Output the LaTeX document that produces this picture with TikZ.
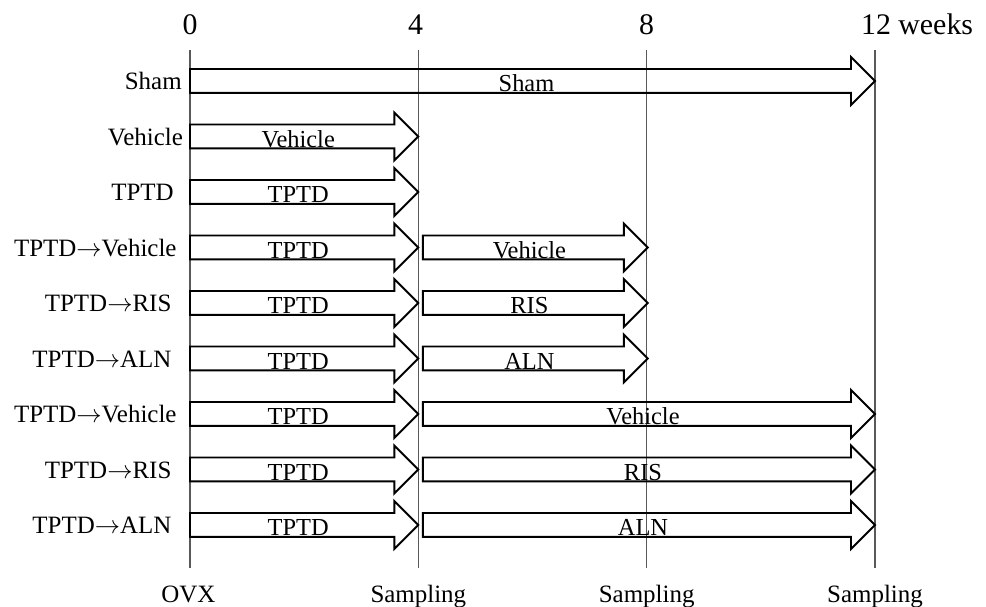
\documentclass[tikz,border=0pt]{standalone}
\usepackage{fontspec}
\setmainfont{Liberation Serif}
\usepackage{tikz}
\usetikzlibrary{shapes.arrows}

\newcommand{\wk}{1.1416cm} % one week along the time axis
\newcommand{\then}{$\rightarrow$}
\tikzset{
    period/.style={single arrow, draw, line width=1.1pt, anchor=tail, outer sep=0pt, inner sep=0pt,
        minimum width=0.94cm, single arrow head extend=0.24cm, single arrow tip angle=90,
        text height=0.44cm, text depth=0pt, font=\fontsize{13.9}{16}\selectfont},
    group/.style={anchor=base east, inner sep=0pt, font=\fontsize{14.2}{17}\selectfont},
    tick/.style={anchor=base, inner sep=0pt, font=\fontsize{17}{20}\selectfont},
    event/.style={anchor=base, inner sep=0pt, font=\fontsize{14.2}{17}\selectfont},
    weekline/.style={draw=black!65, line width=0.7pt},
}

\begin{document}
\begin{tikzpicture}[x=\wk, y=-1.11cm]

\useasboundingbox (-3.329, -0.459) rectangle (13.945, 10.477);

% ── Time axis ──
\node[tick] (w0) at (0, 0.17) {0};
\node[tick] (w4) at (3.95, 0.17) {4};
\node[tick] (w8) at (8, 0.17) {8};
\node[tick, anchor=base west] (w12) at (11.75, 0.17) {12 weeks};

\coordinate (t0) at (0, 0.44);   \coordinate (b0) at (0, 9.77);
\coordinate (t4) at (4, 0.44);   \coordinate (b4) at (4, 9.77);
\coordinate (t8) at (8, 0.44);   \coordinate (b8) at (8, 9.77);
\coordinate (t12) at (12, 0.44); \coordinate (b12) at (12, 9.77);

\draw[weekline] (t0) -- (b0);
\draw[weekline] (t4) -- (b4);
\draw[weekline] (t8) -- (b8);
\draw[weekline] (t12) -- (b12);

% ── Groups ──
\node[group] (g1) at (-0.14, 1.16) {Sham};
\node[group] (g2) at (-0.12, 2.16) {Vehicle};
\node[group] (g3) at (-0.28, 3.16) {TPTD};
\node[group] (g4) at (-0.23, 4.16) {TPTD\then Vehicle};
\node[group] (g5) at (-0.32, 5.16) {TPTD\then RIS};
\node[group] (g6) at (-0.32, 6.16) {TPTD\then ALN};
\node[group] (g7) at (-0.23, 7.16) {TPTD\then Vehicle};
\node[group] (g8) at (-0.32, 8.16) {TPTD\then RIS};
\node[group] (g9) at (-0.32, 9.16) {TPTD\then ALN};

% ── Treatment periods ──
\node[period, minimum height=12*\wk] (sham) at (0, 1) {Sham};
\node[period, minimum height=4*\wk] (veh) at (0, 2) {Vehicle};
\node[period, minimum height=4*\wk] (tptd) at (0, 3) {TPTD};

\node[period, minimum height=4*\wk] (tv8a) at (0, 4) {TPTD};
\node[period, minimum height=3.94*\wk] (tv8b) at (4.08, 4) {Vehicle};
\node[period, minimum height=4*\wk] (tr8a) at (0, 5) {TPTD};
\node[period, minimum height=3.94*\wk] (tr8b) at (4.08, 5) {RIS};
\node[period, minimum height=4*\wk] (ta8a) at (0, 6) {TPTD};
\node[period, minimum height=3.94*\wk] (ta8b) at (4.08, 6) {ALN};

\node[period, minimum height=4*\wk] (tv12a) at (0, 7) {TPTD};
\node[period, minimum height=7.92*\wk] (tv12b) at (4.08, 7) {Vehicle};
\node[period, minimum height=4*\wk] (tr12a) at (0, 8) {TPTD};
\node[period, minimum height=7.92*\wk] (tr12b) at (4.08, 8) {RIS};
\node[period, minimum height=4*\wk] (ta12a) at (0, 9) {TPTD};
\node[period, minimum height=7.92*\wk] (ta12b) at (4.08, 9) {ALN};

% ── Events ──
\node[event] (ovx) at (-0.03, 10.39) {OVX};
\node[event] (s4) at (4, 10.39) {Sampling};
\node[event] (s8) at (8, 10.39) {Sampling};
\node[event] (s12) at (12, 10.39) {Sampling};

\end{tikzpicture}
\end{document}
